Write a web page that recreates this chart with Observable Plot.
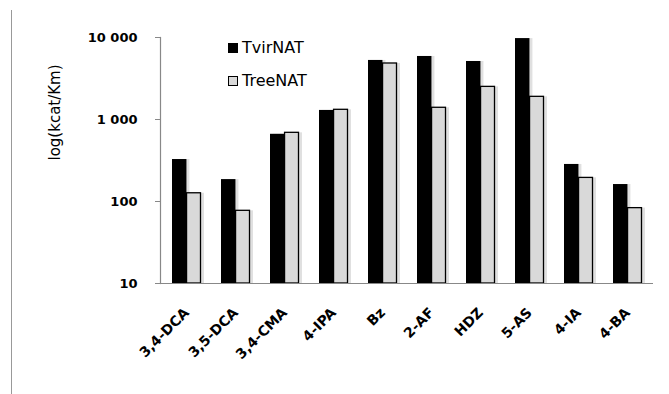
<!DOCTYPE html>
<html><head><meta charset="utf-8">
<script src="https://cdn.jsdelivr.net/npm/d3@7"></script>
<script src="https://cdn.jsdelivr.net/npm/@observablehq/plot@0.6"></script>
<style>
html,body{margin:0;padding:0;background:#fff;}
#wrap{position:relative;width:669px;height:394px;overflow:hidden;font-family:"DejaVu Sans",sans-serif;}
#border{position:absolute;left:11px;top:10px;width:0;height:384px;border-left:1px solid #999;}
.leg{position:absolute;left:228px;font-size:16px;color:#000;display:flex;align-items:center;}
.sw{width:10px;height:10px;margin-right:4px;box-sizing:border-box;}
</style></head>
<body><div id="wrap"><div id="border"></div></div>
<script>
const categories = ["3,4-DCA","3,5-DCA","3,4-CMA","4-IPA","Bz","2-AF","HDZ","5-AS","4-IA","4-BA"];
const series = ["TvirNAT","TreeNAT"];
const tvirNAT = [325,185,660,1290,5250,5870,5100,9700,283,161];
const treeNAT = [126,77,688,1313,4820,1390,2500,1890,194,83];
const yTicks = [10,100,1000,10000];
const yLabel = "log(kcat/Km)";

const tvirData = categories.map((c,i)=>({cat:c, series:series[0], value:tvirNAT[i]}));
const treeData = categories.map((c,i)=>({cat:c, series:series[1], value:treeNAT[i]}));

const fmt = d3.formatLocale({decimal:".", thousands:" ", grouping:[3], currency:["",""]}).format(",");

const mL=160, mR=16, W=669;
const step = (W-mL-mR)/(categories.length - 0.41 + 2*0.2);
const half = step*0.59/2;

const chart = Plot.plot({
  width: W, height: 394,
  marginLeft: mL, marginRight: mR, marginTop: 37, marginBottom: 111,
  style: {fontFamily: "DejaVu Sans, sans-serif", background: "transparent"},
  x: {domain: categories, paddingInner: 0.41, paddingOuter: 0.18, axis: null},
  y: {type: "log", domain: [10, 10000], axis: null},
  marks: [
    Plot.barY(tvirData, {x:"cat", y1:10, y2:"value", insetRight: half, fill:"#000", fillOpacity:0.12, dx:3}),
    Plot.barY(treeData, {x:"cat", y1:10, y2:"value", insetLeft: half, fill:"#000", fillOpacity:0.12, dx:3}),
    Plot.barY(tvirData, {x:"cat", y1:10, y2:"value", insetRight: half, fill:"#000"}),
    Plot.barY(treeData, {x:"cat", y1:10, y2:"value", insetLeft: half, insetRight: 0.5, fill:"#d9d9d9", stroke:"#000", strokeWidth:1.3}),
    Plot.ruleY([10], {stroke:"#888", strokeWidth:1.2}),
    Plot.frame({anchor:"left", stroke:"#888", strokeWidth:1.2}),
    Plot.axisY({ticks: yTicks, tickFormat: fmt, tickSize: 5, tickPadding: 18, stroke:"#888", label: null, fontSize: 13, fontWeight: "bold", fill:"#000"}),
    Plot.text(categories, {x: d=>d, frameAnchor:"bottom", dy: 30, dx: 3, rotate:-45, textAnchor:"end", fontSize: 14, fontWeight:"bold", fill:"#000"}),
    Plot.text([yLabel], {frameAnchor:"left", dx:-105, rotate:-90, fontSize:15, fill:"#000"})
  ]
});
chart.style.position="absolute"; chart.style.left="0"; chart.style.top="0";
const wrap = document.getElementById("wrap");
wrap.appendChild(chart);
const legendItems = [{name:series[0], fill:"#000", stroke:"#000", top:38},{name:series[1], fill:"#d9d9d9", stroke:"#000", top:71}];
for (const it of legendItems) {
  const d = document.createElement("div"); d.className="leg"; d.style.top=it.top+"px";
  const s = document.createElement("div"); s.className="sw"; s.style.background=it.fill; s.style.border="1.3px solid "+it.stroke;
  const t = document.createElement("span"); t.textContent=it.name;
  d.appendChild(s); d.appendChild(t); wrap.appendChild(d);
}
</script></body></html>
